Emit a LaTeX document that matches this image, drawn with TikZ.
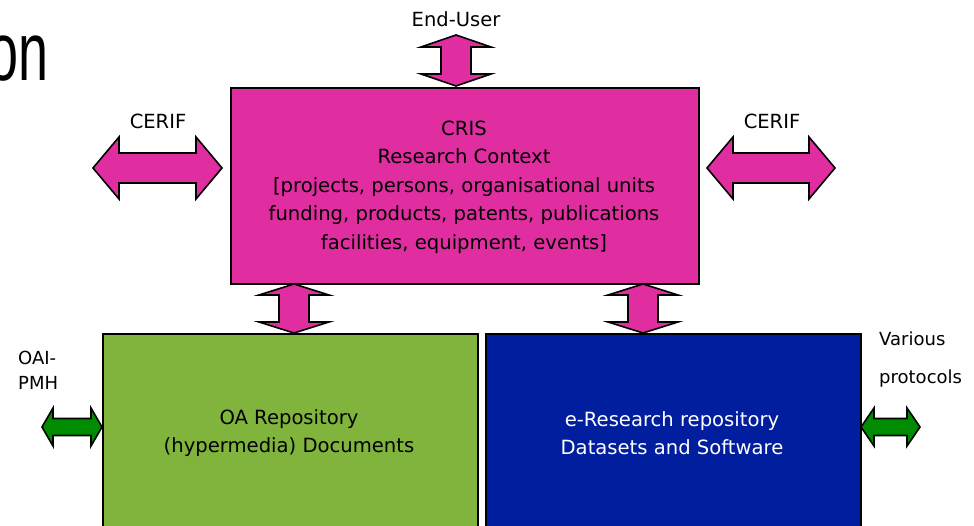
\documentclass[tikz,border=0pt]{standalone}
\usepackage{fontspec}
\setmainfont{DejaVu Sans}
\newfontfamily\titlefont{Liberation Sans}
\definecolor{crismag}{RGB}{224,46,160}
\definecolor{oagreen}{RGB}{128,180,60}
\definecolor{erblue}{RGB}{0,30,158}
\definecolor{arrgreen}{RGB}{0,140,0}
\newcommand\hdarrow[7]{%
  \draw[#7] (#1,#3) -- ({#1+#6},{#3-#4}) -- ({#1+#6},{#3-#5}) -- ({#2-#6},{#3-#5}) -- ({#2-#6},{#3-#4}) -- (#2,#3)
    -- ({#2-#6},{#3+#4}) -- ({#2-#6},{#3+#5}) -- ({#1+#6},{#3+#5}) -- ({#1+#6},{#3+#4}) -- cycle;}
\newcommand\vdarrow[7]{%
  \draw[#7] (#1,#2) -- ({#1+#4},{#2+#6}) -- ({#1+#5},{#2+#6}) -- ({#1+#5},{#3-#6}) -- ({#1+#4},{#3-#6}) -- (#1,#3)
    -- ({#1-#4},{#3-#6}) -- ({#1-#5},{#3-#6}) -- ({#1-#5},{#2+#6}) -- ({#1-#4},{#2+#6}) -- cycle;}
\begin{document}
\begin{tikzpicture}[x=1pt,y=-1pt,
  box/.style={draw=black,line width=2pt,inner sep=0pt,anchor=north west},
  lbl/.style={inner sep=0pt,font=\fontsize{19.5}{22}\selectfont},
  btxt/.style={inner sep=0pt,align=center,font=\fontsize{19.6}{28.5}\selectfont},
  magarrow/.style={fill=crismag,draw=black,line width=1.6pt,line join=miter},
  grnarrow/.style={fill=arrgreen,draw=black,line width=1.6pt,line join=miter}]
\useasboundingbox (0,0) rectangle (974,526);
% partial title
\node[anchor=base west,inner sep=0pt] (title) at (-12,81) {\scalebox{0.65}[1]{\titlefont\fontsize{83}{90}\selectfont on}};
% boxes
\node[box,fill=crismag,minimum width=468pt,minimum height=196pt] (cris) at (230,87) {};
\node[box,fill=oagreen,minimum width=375pt,minimum height=220pt] (oa) at (102,333) {};
\node[box,fill=erblue,minimum width=375pt,minimum height=220pt] (er) at (485,333) {};
% box texts
\node[btxt] (cristxt) at (464,187) {CRIS\\Research Context\\{[}projects, persons, organisational units\\funding, products, patents, publications\\facilities, equipment, events]};
\node[btxt] (oatxt) at (289,433) {OA Repository\\(hypermedia) Documents};
\node[btxt,text=white] (ertxt) at (672,433) {e-Research repository\\Datasets and Software};
% labels
\node[lbl] (enduser) at (456,19) {End-User};
\node[lbl] (cerifl) at (158,121) {CERIF};
\node[lbl] (cerifr) at (772,121) {CERIF};
\node[lbl,anchor=west,align=left,font=\fontsize{18}{25}\selectfont] (oai) at (18,370) {OAI-\\PMH};
\node[lbl,anchor=west,align=left,font=\fontsize{18}{38}\selectfont] (various) at (879,360) {Various\\protocols};
% block arrows
\vdarrow{456}{35}{86}{35}{15}{12}{magarrow}
\hdarrow{93}{222}{168}{31}{15}{26}{magarrow}
\hdarrow{707}{835}{168}{31}{15}{26}{magarrow}
\vdarrow{294}{284}{333}{35}{15}{11}{magarrow}
\vdarrow{643}{284}{333}{35}{15}{11}{magarrow}
\hdarrow{42}{102}{427}{19}{8.5}{11}{grnarrow}
\hdarrow{861}{920}{427}{19}{8.5}{13}{grnarrow}
\end{tikzpicture}
\end{document}
